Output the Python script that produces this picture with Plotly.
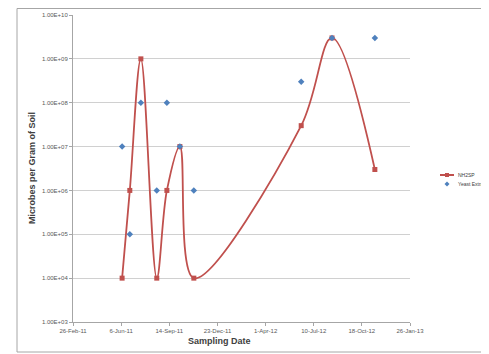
import plotly.graph_objects as go

# Data
nh2sp_dates = ["2011-06-08", "2011-06-24", "2011-07-17", "2011-08-19", "2011-09-09",
               "2011-10-06", "2011-11-04", "2012-06-14", "2012-08-17", "2012-11-14"]
nh2sp_values = [1e4, 1e6, 1e9, 1e4, 1e6, 1e7, 1e4, 3e7, 3e9, 3e6]

yeast_dates = ["2011-06-08", "2011-06-24", "2011-07-17", "2011-08-19", "2011-09-09",
               "2011-10-06", "2011-11-04", "2012-06-14", "2012-08-17", "2012-11-14"]
yeast_values = [1e7, 1e5, 1e8, 1e6, 1e8, 1e7, 1e6, 3e8, 3e9, 3e9]

x_tickvals = ["2011-02-26", "2011-06-06", "2011-09-14", "2011-12-23", "2012-04-01",
              "2012-07-10", "2012-10-18", "2013-01-26"]
x_ticktext = ["26-Feb-11", "6-Jun-11", "14-Sep-11", "23-Dec-11", "1-Apr-12",
              "10-Jul-12", "18-Oct-12", "26-Jan-13"]
y_tickvals = [1e3, 1e4, 1e5, 1e6, 1e7, 1e8, 1e9, 1e10]
y_ticktext = ["1.00E+03", "1.00E+04", "1.00E+05", "1.00E+06", "1.00E+07",
              "1.00E+08", "1.00E+09", "1.00E+10"]

series_names = ["NH2SP", "Yeast Extract"]
x_title = "Sampling Date"
y_title = "Microbes per Gram of Soil"
RED, BLUE = "#C0504D", "#4F81BD"

fig = go.Figure()
fig.add_trace(go.Scatter(
    x=nh2sp_dates, y=nh2sp_values, name=series_names[0], mode="lines+markers",
    line=dict(color=RED, width=1.8, shape="spline", smoothing=1.0),
    marker=dict(symbol="square", size=5, color=RED),
    showlegend=False,
))
fig.add_trace(go.Scatter(
    x=yeast_dates, y=yeast_values, name=series_names[1], mode="markers",
    marker=dict(symbol="diamond", size=5, color=BLUE),
    showlegend=False,
))

# page has an 8px body margin: compensate
OFF = 8
W, H = 489 - OFF, 354 - OFF
PL, PR, PT, PB = 73, 410, 15, 322          # plot area in page pixels
l, r, t, b = PL - OFF, W - (PR - OFF), PT - OFF, H - (PB - OFF)
pw, ph = W - l - r, H - t - b


def px(xp):
    return (xp - OFF - l) / pw


def py(yp):
    return (H - b - (yp - OFF)) / ph


# custom compact legend (Excel style)
leg_y1, leg_y2 = 175, 184
shapes = [
    dict(type="rect", xref="paper", yref="paper",
         x0=px(17), x1=px(500), y0=py(352), y1=py(8.5),
         line=dict(color="#A6A6A6", width=1), fillcolor="rgba(0,0,0,0)", layer="below"),
    dict(type="line", xref="paper", yref="paper",
         x0=px(440), x1=px(454), y0=py(leg_y1), y1=py(leg_y1),
         line=dict(color=RED, width=2)),
    dict(type="rect", xref="paper", yref="paper",
         x0=px(445), x1=px(449), y0=py(leg_y1 + 2), y1=py(leg_y1 - 2),
         line=dict(width=0), fillcolor=RED),
    dict(type="path", xref="paper", yref="paper",
         path=f"M {px(447)} {py(leg_y2 - 2.5)} L {px(449.5)} {py(leg_y2)} L {px(447)} {py(leg_y2 + 2.5)} L {px(444.5)} {py(leg_y2)} Z",
         line=dict(width=0), fillcolor=BLUE),
]
annotations = [
    dict(xref="paper", yref="paper", x=px(456), y=py(leg_y1), text=series_names[0],
         showarrow=False, xanchor="left", yanchor="middle",
         font=dict(size=5, color="#404040")),
    dict(xref="paper", yref="paper", x=px(456), y=py(leg_y2), text=series_names[1],
         showarrow=False, xanchor="left", yanchor="middle",
         font=dict(size=5, color="#404040")),
    dict(xref="paper", yref="paper", x=px(219), y=py(341), text=f"<b>{x_title}</b>",
         showarrow=False, xanchor="center", yanchor="middle",
         font=dict(size=9, color="#404040")),
    dict(xref="paper", yref="paper", x=px(32), y=py(168), text=f"<b>{y_title}</b>",
         showarrow=False, xanchor="center", yanchor="middle", textangle=-90,
         font=dict(size=9, color="#404040")),
]

fig.update_layout(
    width=W, height=H,
    margin=dict(l=l, r=r, t=t, b=b, autoexpand=False),
    paper_bgcolor="white", plot_bgcolor="white",
    font=dict(family="Liberation Sans, Arial, sans-serif", color="#595959"),
    showlegend=False,
    xaxis=dict(
        type="date", range=["2011-02-26", "2013-01-26"],
        tickmode="array", tickvals=x_tickvals, ticktext=x_ticktext,
        tickfont=dict(size=6, color="#595959"),
        showgrid=False, showline=True, linecolor="#A6A6A6", linewidth=1,
        ticks="outside", ticklen=3, tickcolor="#A6A6A6", zeroline=False,
        automargin=False,
    ),
    yaxis=dict(
        type="log", range=[3, 10],
        tickmode="array", tickvals=y_tickvals, ticktext=y_ticktext,
        tickfont=dict(size=6, color="#595959"),
        showgrid=True, gridcolor="#D0D0D0", gridwidth=1,
        showline=True, linecolor="#A6A6A6", linewidth=1,
        ticks="outside", ticklen=3, tickcolor="#A6A6A6", zeroline=False,
        automargin=False,
    ),
    shapes=shapes,
    annotations=annotations,
)

fig.write_html("out.html")
